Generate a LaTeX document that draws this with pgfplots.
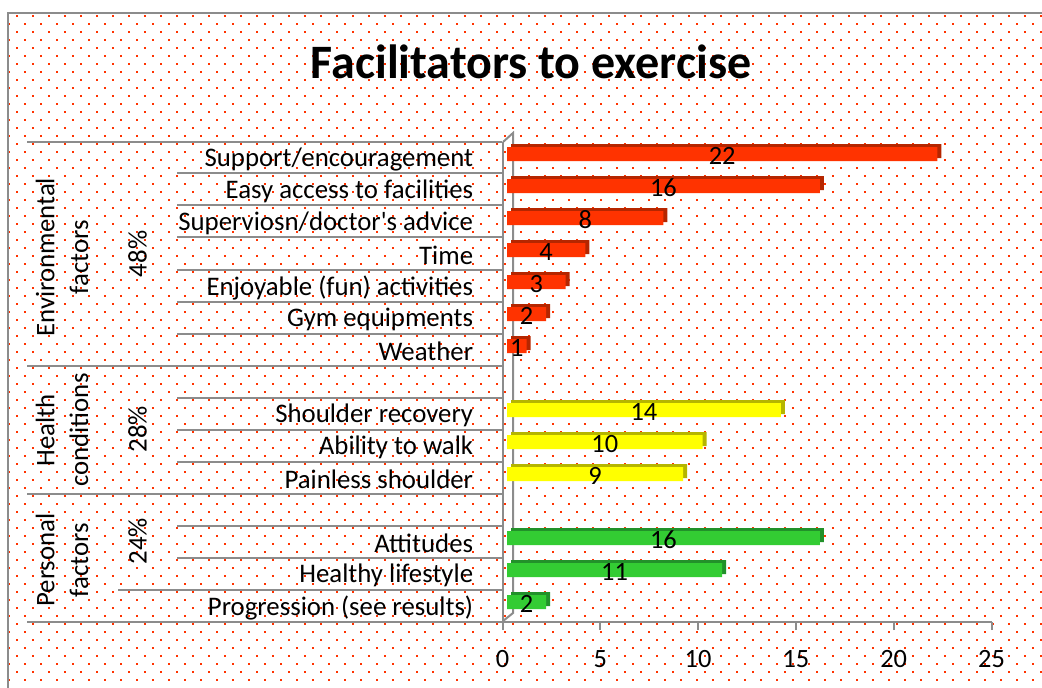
\documentclass[border=0pt]{standalone}
\usepackage{pgfplots}
\usepackage{pgfplotstable}
\pgfplotsset{compat=1.18}
\usepackage{fontspec}
\setmainfont{Carlito}
\definecolor{dotred}{HTML}{FF3300}
\definecolor{redF}{HTML}{FF3300}
\definecolor{redD}{HTML}{B52600}
\definecolor{yelF}{HTML}{FFFF00}
\definecolor{yelD}{HTML}{B5B500}
\definecolor{grnF}{HTML}{33CC33}
\definecolor{grnD}{HTML}{22912A}
\definecolor{axgray}{HTML}{8C8C8C}
\newcommand{\labfont}{\fontsize{13.4}{16.8}\selectfont}
\newcommand{\numfont}{\fontsize{13.2}{15}\selectfont}

\pgfplotstableread{
y v
15 22
14 16
13 8
12 4
11 3
10 2
9 1
}\envtab
\pgfplotstableread{
y v
7 14
6 10
5 9
}\healthtab
\pgfplotstableread{
y v
3 16
2 11
1 2
}\perstab

\pgfplotsset{vlab/.style={draw=none, mark=none, nodes near coords, point meta=explicit,
  nodes near coords style={anchor=center, font=\numfont, text=black, yshift=1pt}}}

\begin{document}
\begin{tikzpicture}
\useasboundingbox (0,0) rectangle (521pt,-343.5pt);
\begin{scope}[x=0.5pt,y=-0.5pt]
  % dotted background
  \foreach \yy in {16,32,...,680} {\foreach \xx in {17,33,...,1041} {\fill[dotred] (\xx-1,\yy-1) rectangle ++(2,2);}}
  \foreach \yy in {24,40,...,680} {\foreach \xx in {9,25,...,1041} {\fill[dotred] (\xx-1,\yy-1) rectangle ++(2,2);}}
  % chart border
  \draw[axgray, line width=1pt] (8,690) -- (8,13) -- (1045,13);
  % title
  \node[font=\fontsize{24}{28}\selectfont\bfseries] at (531,62) {Facilitators to exercise};
  % category separators
  \begin{scope}[axgray, line width=1pt]
    \draw (27,142) -- (502,142);
    \foreach \yy in {173,205,237,270,302,334} {\draw (177,\yy) -- (502,\yy);}
    \draw (27,366) -- (502,366);
    \foreach \yy in {398,430,462} {\draw (177,\yy) -- (502,\yy);}
    \draw (27,494) -- (502,494);
    \foreach \yy in {526,558} {\draw (177,\yy) -- (502,\yy);}
    \draw (118,590) -- (502,590);
    \draw (27,622) -- (502,622);
    % back wall edges
    \draw (503,142) -- (513,133) -- (513,613) -- (503,621);
  \end{scope}
  % group labels
  \node[rotate=90, align=center, font=\labfont] at (62,257) {Environmental\\factors};
  \node[rotate=90, align=center, font=\labfont] at (62,430) {Health\\conditions};
  \node[rotate=90, align=center, font=\labfont] at (62,560) {Personal\\factors};
  \node[rotate=90, font=\labfont] at (137.5,254) {48\%};
  \node[rotate=90, font=\labfont] at (137.5,429) {28\%};
  \node[rotate=90, font=\labfont] at (137.5,541) {24\%};
\end{scope}

% category / tick axis
\begin{axis}[
  at={(251.25pt,-311pt)}, anchor=south west,
  scale only axis, width=244.5pt, height=240pt,
  xmin=0, xmax=25, ymin=0.5, ymax=15.5,
  axis x line*=bottom, axis y line*=left,
  axis line style={axgray, line width=1pt},
  xtick={0,5,...,25}, tick align=outside, major tick length=4pt,
  tick style={axgray, line width=1pt},
  ytick={1,2,3,5,6,7,9,10,11,12,13,14,15},
  yticklabels={Progression (see results)\hspace{-3pt},Healthy lifestyle\hspace{-3pt},Attitudes,Painless shoulder,Ability to walk,Shoulder recovery,Weather,Gym equipments,Enjoyable (fun) activities,Time,Superviosn/doctor\textquotesingle s advice,Easy access to facilities,Support/encouragement},
  ytick style={draw=none},
  /pgf/number format/assume math mode=true,
  yticklabel style={font=\labfont, anchor=east, inner sep=0pt, xshift=-10.5pt, yshift=-0.8pt},
  xticklabel style={font=\numfont, anchor=base, inner sep=0pt, yshift=-18.8pt},
  clip=false,
]
\end{axis}

% bars axis (front plane, offset by the 3-D depth)
\begin{axis}[
  at={(253.5pt,-311pt)}, anchor=south west,
  scale only axis, width=244.5pt, height=240pt,
  xmin=0, xmax=25, ymin=0.5, ymax=15.5,
  axis lines=none, clip=false,
  /pgf/number format/assume math mode=true,
]
\addplot[xbar, bar width=7pt, bar shift=2pt, fill=redD, draw=none, xshift=2pt, yshift=1.5pt] table[x=v, y=y] {\envtab};
\addplot[xbar, bar width=7pt, bar shift=2pt, fill=redF, draw=none] table[x=v, y=y] {\envtab};
\addplot[xbar, bar width=7pt, bar shift=2pt, fill=yelD, draw=none, xshift=2pt, yshift=1.5pt] table[x=v, y=y] {\healthtab};
\addplot[xbar, bar width=7pt, bar shift=2pt, fill=yelF, draw=none] table[x=v, y=y] {\healthtab};
\addplot[xbar, bar width=7pt, bar shift=2pt, fill=grnD, draw=none, xshift=2pt, yshift=1.5pt] table[x=v, y=y] {\perstab};
\addplot[xbar, bar width=7pt, bar shift=2pt, fill=grnF, draw=none] table[x=v, y=y] {\perstab};
% value labels, centred on bars
\addplot[vlab] table[x expr=\thisrow{v}/2, y=y, meta=v] {\envtab};
\addplot[vlab] table[x expr=\thisrow{v}/2, y=y, meta=v] {\healthtab};
\addplot[vlab] table[x expr=\thisrow{v}/2, y=y, meta=v] {\perstab};
\end{axis}
\end{tikzpicture}
\end{document}
